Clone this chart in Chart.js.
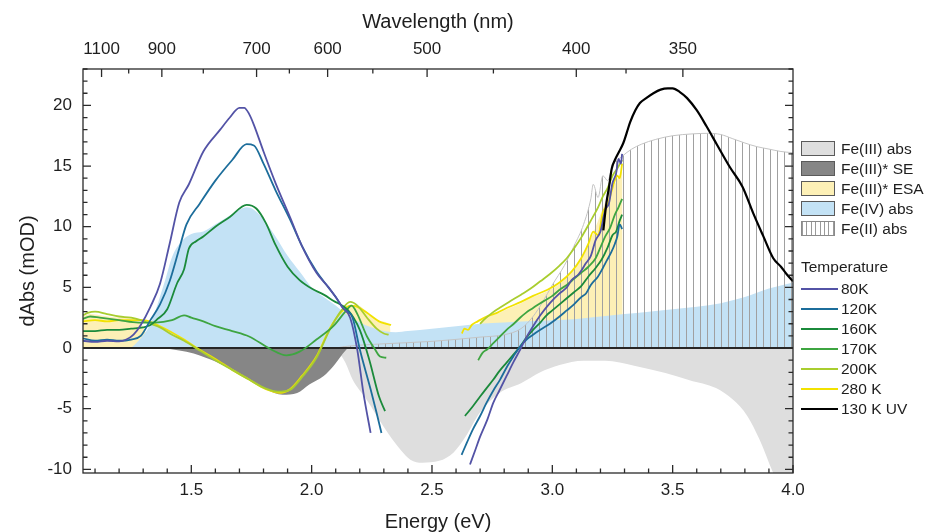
<!DOCTYPE html>
<html>
<head>
<meta charset="utf-8">
<title>Transient absorption vs temperature</title>
<script src="https://cdn.jsdelivr.net/npm/chart.js@4.4.1/dist/chart.umd.min.js"></script>
<style>
  html, body { margin: 0; padding: 0; background: #fff; }
  #wrap { position: relative; width: 930px; height: 532px; overflow: hidden; }
  #chart { position: absolute; left: 0; top: 0; }
  #legend { position: absolute; left: 0; top: 0; width: 930px; height: 532px; pointer-events: none;
            font-family: 'Liberation Sans', Arial, sans-serif; font-size: 15.5px; color: #1e1e1e; }
  .item { position: absolute; left: 801px; height: 20px; line-height: 20px; white-space: nowrap; }
  .sw { position: absolute; left: 0; top: 2px; width: 34px; height: 15px; box-sizing: border-box;
        border: 1px solid #5a5a5a; }
  .ln { position: absolute; left: 0; top: 9px; width: 37px; height: 2px; }
  .txt { position: absolute; left: 40px; top: 0; }
  .head { position: absolute; left: 801px; }
</style>
</head>
<body>
<div id="wrap">
  <canvas id="chart" width="930" height="532"></canvas>
  <div id="legend"></div>
</div>
<script>
// Energy in eV, signal in mOD; each array is a list of [energy, dAbs] pairs.

// ---- reference spectra (filled areas) ----
const fe3Abs = [[2.10,0],[2.14,-1.2],[2.17,-2.6],[2.23,-4.3],[2.30,-6.5],[2.37,-8.4],[2.41,-9.2],[2.46,-9.45],
  [2.53,-9.3],[2.59,-8.6],[2.64,-7.3],[2.70,-5.3],[2.78,-3.7],[2.87,-2.9],[2.95,-2.0],[3.03,-1.4],[3.13,-1.05],
  [3.22,-1.05],[3.34,-1.45],[3.47,-2.05],[3.57,-2.65],[3.68,-3.3],[3.75,-4.25],[3.81,-5.6],[3.86,-7.5],
  [3.92,-10.4],[3.96,-12.0],[4.0,-13.0]];
const fe3StarSE = [[1.37,0],[1.45,-0.2],[1.51,-0.45],[1.56,-0.8],[1.60,-1.1],[1.67,-1.8],[1.74,-2.6],[1.81,-3.4],
  [1.88,-3.85],[1.94,-3.7],[1.99,-3.0],[2.05,-2.3],[2.09,-1.5],[2.13,-0.45],[2.15,0]];
const fe3StarESA_low = [[1.05,2.6],[1.08,2.8],[1.12,2.7],[1.2,2.5],[1.27,2.4],[1.31,1.3],[1.33,0]];
const fe3StarESA_mid = [[2.10,0],[2.12,2.8],[2.15,3.4],[2.19,3.5],[2.23,3.0],[2.28,2.2],[2.325,1.9],[2.33,0]];
const fe3StarESA_high = [[2.69,0],[2.70,2.1],[2.75,2.7],[2.81,3.2],[2.87,3.7],[2.92,4.2],[2.98,4.7],[3.03,5.3],
  [3.08,6.2],[3.12,7.3],[3.15,8.5],[3.19,10.5],[3.23,12.5],[3.26,13.5],[3.29,14.5],[3.293,0]];
const fe4Abs = [[1.25,0],[1.29,0.8],[1.33,2.0],[1.39,5.5],[1.42,7.5],[1.46,8.8],[1.50,9.4],[1.55,9.6],[1.60,10.2],
  [1.65,10.8],[1.70,11.4],[1.73,11.6],[1.76,11.4],[1.80,10.6],[1.85,9.2],[1.90,7.6],[1.95,6.3],[2.0,5.0],
  [2.05,4.2],[2.10,3.5],[2.15,2.7],[2.20,2.1],[2.25,1.7],[2.30,1.4],[2.35,1.3],[2.40,1.4],[2.50,1.6],[2.60,1.8],
  [2.70,2.0],[2.80,2.1],[2.90,2.2],[3.0,2.3],[3.1,2.4],[3.2,2.6],[3.3,2.8],[3.4,3.0],[3.5,3.2],[3.6,3.4],
  [3.7,3.7],[3.8,4.2],[3.9,4.9],[4.0,5.4]];
const fe2Abs = [[2.10,0],[2.15,0.15],[2.30,0.35],[2.50,0.55],[2.70,0.9],[2.80,1.1],[2.87,1.6],[2.92,2.6],
  [2.96,3.8],[3.0,5.2],[3.05,6.8],[3.09,8.4],[3.13,10.2],[3.16,12.3],[3.17,13.5],[3.19,12.4],[3.21,14.2],
  [3.23,13.8],[3.25,15.0],[3.29,15.8],[3.33,16.4],[3.37,16.8],[3.43,17.2],[3.50,17.5],[3.58,17.65],[3.65,17.7],
  [3.70,17.6],[3.75,17.25],[3.80,16.9],[3.85,16.6],[3.90,16.4],[3.95,16.2],[4.0,16.1]];

// ---- temperature series (visible and UV probe windows) ----
const k80_vis = [[1.05,0.6],[1.1,0.5],[1.15,0.6],[1.2,0.55],[1.23,0.7],[1.26,1.1],[1.29,1.9],[1.33,3.4],[1.37,5.3],
  [1.41,8.6],[1.45,12.0],[1.49,13.5],[1.55,16.2],[1.62,18.0],[1.66,19.0],[1.70,19.8],[1.72,19.8],[1.74,19.3],
  [1.76,18.4],[1.80,16.2],[1.85,13.6],[1.91,10.8],[1.96,8.4],[2.02,6.2],[2.07,5.0],[2.10,4.2],[2.13,3.3],
  [2.16,2.5],[2.19,-0.2],[2.215,-3.7],[2.245,-7.0]];
const k80_uv = [[2.658,-9.6],[2.68,-8.4],[2.70,-7.3],[2.73,-5.9],[2.755,-4.5],[2.78,-3.5],[2.81,-2.3],[2.84,-1.1],
  [2.866,-0.15],[2.89,0.8],[2.92,1.8],[2.95,2.7],[2.99,3.7],[3.03,4.5],[3.06,5.0],[3.08,5.6],[3.11,6.1],
  [3.14,7.0],[3.16,7.6],[3.18,8.9],[3.20,9.6],[3.22,11.4],[3.235,11.9],[3.25,13.6],[3.265,14.4],[3.275,15.6],
  [3.285,15.2],[3.29,16.0]];
const k120_vis = [[1.05,0.8],[1.1,0.6],[1.15,0.7],[1.2,0.6],[1.25,0.7],[1.29,1.0],[1.33,2.3],[1.37,3.6],[1.41,5.5],
  [1.45,8.2],[1.48,10.2],[1.535,11.9],[1.60,13.8],[1.67,15.5],[1.73,16.8],[1.76,16.7],[1.80,15.2],[1.85,13.0],
  [1.91,10.6],[1.96,8.4],[2.02,6.3],[2.07,5.0],[2.10,4.2],[2.13,3.3],[2.17,2.5],[2.20,-0.1],[2.245,-3.4],
  [2.27,-5.35],[2.29,-7.0]];
const k120_uv = [[2.623,-8.8],[2.645,-7.8],[2.67,-6.7],[2.70,-5.6],[2.727,-4.5],[2.755,-3.5],[2.783,-2.6],
  [2.81,-1.6],[2.838,-0.7],[2.865,0.1],[2.893,0.7],[2.92,1.1],[2.95,1.5],[2.99,2.0],[3.03,2.6],[3.06,3.1],
  [3.09,3.6],[3.12,4.2],[3.14,4.5],[3.16,5.2],[3.19,5.9],[3.21,6.6],[3.226,7.2],[3.245,7.9],[3.26,8.6],
  [3.27,9.2],[3.28,10.2],[3.29,9.8]];
const k160_vis = [[1.05,1.4],[1.1,1.4],[1.15,1.5],[1.2,1.5],[1.25,1.6],[1.3,1.7],[1.33,1.9],[1.36,2.4],[1.40,3.2],
  [1.44,5.3],[1.47,6.5],[1.49,8.2],[1.52,8.8],[1.55,9.2],[1.60,10.0],[1.66,10.8],[1.73,11.8],[1.77,11.5],
  [1.81,10.3],[1.85,8.5],[1.90,6.7],[1.95,5.6],[2.0,4.9],[2.05,4.4],[2.09,3.9],[2.15,3.15],[2.2,1.5],
  [2.24,-1.0],[2.28,-4.0],[2.305,-5.2]];
const k160_uv = [[2.637,-5.6],[2.67,-4.8],[2.70,-4.0],[2.727,-3.3],[2.755,-2.6],[2.78,-1.9],[2.81,-1.2],[2.84,-0.5],
  [2.866,0.1],[2.89,0.8],[2.92,1.5],[2.95,2.1],[2.976,2.7],[3.0,3.1],[3.03,3.6],[3.06,4.1],[3.09,4.6],
  [3.12,5.1],[3.15,5.9],[3.18,6.6],[3.205,7.3],[3.23,8.3],[3.25,9.3],[3.265,9.6],[3.28,10.5],[3.29,11.0]];
const k170_vis = [[1.05,2.4],[1.08,2.6],[1.12,2.5],[1.2,2.3],[1.28,2.1],[1.35,2.1],[1.42,2.3],[1.47,2.7],[1.50,2.5],
  [1.55,2.2],[1.60,1.8],[1.67,1.4],[1.74,0.95],[1.83,-0.1],[1.895,-0.6],[1.95,-0.3],[2.02,0.7],[2.09,1.8],
  [2.14,3.0],[2.166,3.5],[2.19,2.8],[2.23,0.95],[2.26,0.0],[2.284,-0.7],[2.31,-0.8]];
const k170_uv = [[2.692,-1.0],[2.71,-0.4],[2.73,-0.1],[2.755,0.4],[2.78,0.9],[2.81,1.5],[2.84,2.0],[2.866,2.5],
  [2.89,2.9],[2.92,3.3],[2.95,3.7],[2.976,4.0],[3.0,4.3],[3.03,4.8],[3.06,5.2],[3.09,5.7],[3.12,6.2],
  [3.15,6.7],[3.18,7.4],[3.2,8.3],[3.22,9.2],[3.24,9.9],[3.26,11.0],[3.275,11.6],[3.29,12.3]];
const k200_vis = [[1.05,2.7],[1.07,2.9],[1.1,3.0],[1.15,2.8],[1.2,2.6],[1.25,2.5],[1.29,2.3],[1.33,2.0],[1.37,1.7],
  [1.42,1.1],[1.47,0.6],[1.535,-0.2],[1.6,-1.0],[1.67,-1.8],[1.74,-2.6],[1.81,-3.35],[1.86,-3.6],[1.91,-3.45],
  [1.96,-2.4],[2.02,-0.8],[2.075,1.5],[2.12,3.0],[2.16,3.8],[2.19,3.5],[2.23,2.5],[2.27,1.6],[2.30,1.2],[2.32,1.1]];
const k200_uv = [[2.70,2.0],[2.72,2.4],[2.75,2.9],[2.78,3.3],[2.82,3.8],[2.87,4.4],[2.91,4.9],[2.95,5.5],[2.99,6.1],
  [3.03,6.8],[3.06,7.4],[3.09,8.2],[3.12,9.1],[3.16,10.5],[3.19,11.6],[3.21,12.5],[3.23,13.2],[3.25,14.2],
  [3.27,14.8],[3.29,15.5]];
const k280_vis = [[1.05,2.2],[1.1,2.3],[1.15,2.2],[1.2,2.3],[1.25,2.3],[1.3,2.3],[1.37,1.8],[1.47,0.7],[1.535,-0.15],
  [1.6,-0.9],[1.67,-1.8],[1.74,-2.6],[1.81,-3.4],[1.87,-3.7],[1.91,-3.4],[1.96,-2.3],[2.02,-0.7],[2.075,1.6],
  [2.12,2.9],[2.16,3.5],[2.19,3.4],[2.23,2.9],[2.28,2.2],[2.31,2.0],[2.33,1.9]];
const k280_uv = [[2.624,1.2],[2.635,1.6],[2.65,1.5],[2.665,1.9],[2.69,2.2],[2.727,2.6],[2.77,2.9],[2.81,3.3],
  [2.87,3.8],[2.92,4.3],[2.98,4.8],[3.03,5.4],[3.08,6.3],[3.12,7.4],[3.15,8.6],[3.17,9.6],[3.19,9.3],
  [3.21,11.2],[3.23,11.8],[3.25,13.2],[3.27,14.2],[3.28,14.0],[3.29,15.2]];
const k130_uvPump = [[3.212,9.7],[3.225,12.0],[3.235,13.2],[3.247,14.8],[3.26,15.5],[3.275,16.1],[3.295,16.9],
  [3.31,17.8],[3.323,18.6],[3.345,19.6],[3.364,20.2],[3.39,20.6],[3.42,21.0],[3.45,21.3],[3.48,21.4],[3.50,21.4],
  [3.53,21.1],[3.56,20.6],[3.60,19.6],[3.64,18.3],[3.683,16.8],[3.738,14.9],[3.79,13.3],[3.835,11.1],
  [3.877,9.2],[3.918,7.4],[3.95,6.7],[3.973,6.1],[4.0,5.5]];

// ---- axes ----
const energyTicks = [1.5, 2.0, 2.5, 3.0, 3.5, 4.0];
const wavelengthTicks = [1100, 900, 700, 600, 500, 400, 350];
const wavelengthMinorTicks = [1000, 800, 650, 550, 450, 375];
const dAbsTicks = [-10, -5, 0, 5, 10, 15, 20];
const HC_EV_NM = 1239.84;

const fillLegend = [
  { label: 'Fe(III) abs',   color: '#dedede' },
  { label: 'Fe(III)* SE',   color: '#868686' },
  { label: 'Fe(III)* ESA',  color: '#fdf0b6' },
  { label: 'Fe(IV) abs',    color: '#c3e2f5' },
  { label: 'Fe(II) abs',    color: 'hatch' }
];
const temperatures = [
  { label: '80K',      color: '#5353a6', data: [k80_vis, k80_uv] },
  { label: '120K',     color: '#1c6d9b', data: [k120_vis, k120_uv] },
  { label: '160K',     color: '#1b8a3b', data: [k160_vis, k160_uv] },
  { label: '170K',     color: '#3ea541', data: [k170_vis, k170_uv] },
  { label: '200K',     color: '#a9cd2f', data: [k200_vis, k200_uv] },
  { label: '280 K',    color: '#f2e200', data: [k280_vis, k280_uv] },
  { label: '130 K UV', color: '#000000', data: [k130_uvPump] }
];

const toXY = arr => arr.map(([x, y]) => ({ x, y }));

function hatchPattern(ctx) {
  const c = document.createElement('canvas');
  c.width = 7; c.height = 8;
  const g = c.getContext('2d');
  g.fillStyle = '#a0a0a0';
  g.fillRect(0, 0, 1, 8);
  return ctx.createPattern(c, 'repeat');
}

const canvas = document.getElementById('chart');
const ctx = canvas.getContext('2d');

const areaSet = (label, data, color, order, extra) => Object.assign({
  label, data: toXY(data), order, fill: 'origin', backgroundColor: color,
  borderWidth: 0, borderColor: 'rgba(0,0,0,0)', pointRadius: 0, cubicInterpolationMode: 'monotone'
}, extra || {});

const datasets = [];
temperatures.forEach((t, i) => {
  t.data.forEach(branch => datasets.push({
    label: t.label, data: toXY(branch), order: i === 6 ? 0 : i + 1,
    borderColor: t.color, borderWidth: t.label === '130 K UV' ? 2.2 : 1.8,
    pointRadius: 0, fill: false, cubicInterpolationMode: 'monotone'
  }));
});
datasets.push(areaSet('Fe(II) abs', fe2Abs, hatchPattern(ctx), 10, { borderWidth: 1, borderColor: '#c4c4c4' }));
datasets.push(areaSet('Fe(IV) abs', fe4Abs, '#c3e2f5', 11));
datasets.push(areaSet('Fe(III)* ESA', fe3StarESA_low, '#fdf0b6', 12));
datasets.push(areaSet('Fe(III)* ESA', fe3StarESA_mid, '#fdf0b6', 12));
datasets.push(areaSet('Fe(III)* ESA', fe3StarESA_high, '#fdf0b6', 12));
datasets.push(areaSet('Fe(III)* SE', fe3StarSE, '#868686', 13));
datasets.push(areaSet('Fe(III) abs', fe3Abs, '#dedede', 14));

const FONT = "'Liberation Sans', Arial, Helvetica, sans-serif";
const INK = '#1e1e1e';
const tickFont = { family: FONT, size: 17, lineHeight: 1.2 };
const titleFont = { family: FONT, size: 20, lineHeight: 1 };

// Frame, inward tick marks and the zero line
const axisFrame = {
  id: 'axisFrame',
  afterDatasetDraw(chart, args) {
    if (chart.data.datasets[args.index].label !== 'Fe(II) abs') return;
    const { ctx, chartArea: a, scales: { y } } = chart;
    const y0 = y.getPixelForValue(0);
    ctx.save();
    ctx.strokeStyle = '#262626';
    ctx.lineWidth = 2;
    ctx.beginPath(); ctx.moveTo(a.left, y0); ctx.lineTo(a.right, y0); ctx.stroke();
    ctx.restore();
  },
  afterDraw(chart) {
    const { ctx, chartArea: a, scales: { x, x2, y } } = chart;
    ctx.save();
    ctx.strokeStyle = '#2a2a2a';
    ctx.lineWidth = 1.3;
    ctx.strokeRect(a.left, a.top, a.right - a.left, a.bottom - a.top);
    ctx.beginPath();
    const seg = (x1, y1, x2_, y2) => { ctx.moveTo(x1, y1); ctx.lineTo(x2_, y2); };
    // energy axis: major every 0.5 eV, minor every 0.1 eV
    for (let k = 11; k <= 40; k++) {
      const e = k / 10;
      const major = energyTicks.some(v => Math.abs(v - e) < 1e-6);
      const px = x.getPixelForValue(e);
      seg(px, a.bottom, px, a.bottom - (major ? 8 : 4.5));
    }
    // wavelength axis
    wavelengthTicks.forEach(w => { const px = x2.getPixelForValue(HC_EV_NM / w); seg(px, a.top, px, a.top + 8); });
    wavelengthMinorTicks.forEach(w => { const px = x2.getPixelForValue(HC_EV_NM / w); seg(px, a.top, px, a.top + 4.5); });
    // dAbs axis, mirrored on the right
    for (let v = -10; v <= 23; v++) {
      const major = dAbsTicks.includes(v);
      const py = y.getPixelForValue(v);
      const len = major ? 8 : 4.5;
      seg(a.left, py, a.left + len, py);
      seg(a.right, py, a.right - len, py);
    }
    ctx.stroke();
    ctx.restore();
  }
};

new Chart(ctx, {
  type: 'line',
  data: { datasets },
  options: {
    responsive: false,
    animation: false,
    devicePixelRatio: 1,
    parsing: true,
    layout: { padding: { left: 0, right: 137, top: 0, bottom: 0 } },
    plugins: { legend: { display: false }, tooltip: { enabled: false } },
    scales: {
      x: {
        type: 'linear', position: 'bottom', min: 1.05, max: 4.0,
        afterBuildTicks: s => { s.ticks = energyTicks.map(v => ({ value: v })); },
        ticks: { callback: v => Number(v).toFixed(1), padding: 7, font: tickFont, color: INK, maxRotation: 0, autoSkip: false },
        grid: { display: false, drawTicks: false }, border: { display: false },
        title: { display: true, text: 'Energy (eV)', font: titleFont, color: INK, padding: { top: 0, bottom: 0 } },
        afterFit: s => { s.height = 59; }
      },
      x2: {
        type: 'linear', position: 'top', min: 1.05, max: 4.0,
        afterBuildTicks: s => { s.ticks = wavelengthTicks.map(w => ({ value: HC_EV_NM / w })); },
        ticks: { callback: v => String(Math.round(HC_EV_NM / v)), padding: 9, font: tickFont, color: INK, maxRotation: 0, autoSkip: false },
        grid: { display: false, drawTicks: false }, border: { display: false },
        title: { display: true, text: 'Wavelength (nm)', font: titleFont, color: INK, padding: { top: 12, bottom: 0 } },
        afterFit: s => { s.height = 69; }
      },
      y: {
        type: 'linear', position: 'left', min: -10.3, max: 23,
        afterBuildTicks: s => { s.ticks = dAbsTicks.map(v => ({ value: v })); },
        ticks: { padding: 11, font: tickFont, color: INK, autoSkip: false },
        grid: { display: false, drawTicks: false }, border: { display: false },
        title: { display: true, text: 'dAbs (mOD)', font: titleFont, color: INK, padding: { top: 18, bottom: 0 } },
        afterFit: s => { s.width = 83; }
      }
    }
  },
  plugins: [axisFrame]
});

// Legend: reference spectra swatches, then the temperature series
const legend = document.getElementById('legend');
fillLegend.forEach((f, i) => {
  const row = document.createElement('div');
  row.className = 'item';
  row.style.top = (139 + i * 20) + 'px';
  const sw = document.createElement('span');
  sw.className = 'sw';
  if (f.color === 'hatch') {
    sw.style.background = 'repeating-linear-gradient(90deg, #9a9a9a 0 1px, #ffffff 1px 4.4px)';
    sw.style.borderColor = '#8a8a8a';
  } else {
    sw.style.background = f.color;
  }
  const tx = document.createElement('span');
  tx.className = 'txt';
  tx.textContent = f.label;
  row.appendChild(sw); row.appendChild(tx);
  legend.appendChild(row);
});
const head = document.createElement('div');
head.className = 'head';
head.style.top = '258px';
head.textContent = 'Temperature';
legend.appendChild(head);
temperatures.forEach((t, i) => {
  const row = document.createElement('div');
  row.className = 'item';
  row.style.top = (279 + i * 20) + 'px';
  const ln = document.createElement('span');
  ln.className = 'ln';
  ln.style.background = t.color;
  const tx = document.createElement('span');
  tx.className = 'txt';
  tx.textContent = t.label;
  row.appendChild(ln); row.appendChild(tx);
  legend.appendChild(row);
});
</script>
</body>
</html>
